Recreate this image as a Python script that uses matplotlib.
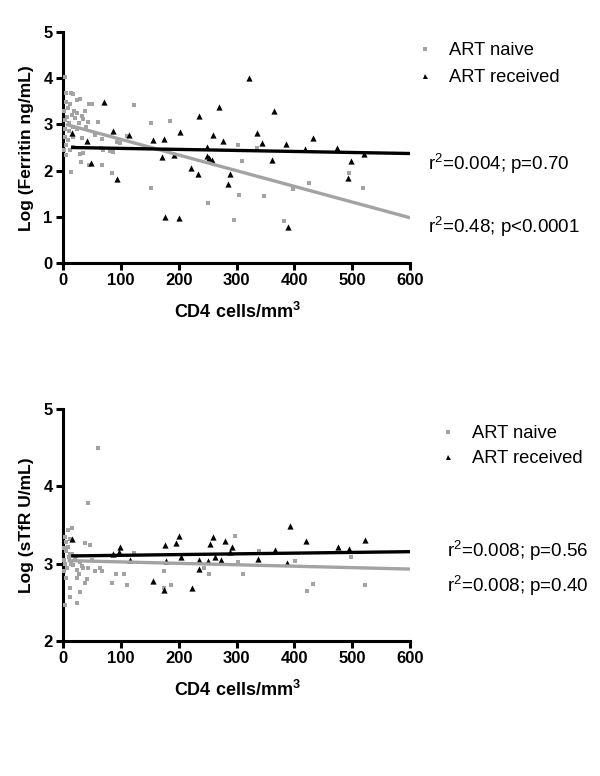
import matplotlib
matplotlib.use("Agg")
import matplotlib.pyplot as plt
from matplotlib.lines import Line2D

plt.rcParams['font.family'] = ['Liberation Sans', 'DejaVu Sans']
plt.rcParams['mathtext.fontset'] = 'custom'
plt.rcParams['mathtext.rm'] = 'Liberation Sans'
plt.rcParams['mathtext.bf'] = 'Liberation Sans:bold'
plt.rcParams['mathtext.it'] = 'Liberation Sans:italic'

# ---------------- data ----------------
x_ticks = [0, 100, 200, 300, 400, 500, 600]
top_y_ticks = [0, 1, 2, 3, 4, 5]
bot_y_ticks = [2, 3, 4, 5]
legend_labels = ["ART naive", "ART received"]

top_naive_x = [3, 5, 14, 18, 5, 24, 29, 45, 50, 38, 19, 24, 32, 34, 21, 7, 3, 11, 18, 25, 28, 44, 61, 122,
               3, 9, 6, 5, 12, 18, 29, 35, 18, 32, 67, 66, 70, 86, 81, 31, 45, 67, 14, 84, 99, 94, 110,
               152, 153, 185, 251, 296, 302, 305, 310, 336, 347, 382, 398, 425, 495, 518,
               2, 4, 8, 10, 15, 2, 12, 40, 55]
top_naive_y = [4.03, 3.67, 3.67, 3.65, 3.49, 3.53, 3.55, 3.44, 3.44, 3.28, 3.28, 3.25, 3.18, 3.11, 3.13, 3.15,
               3.10, 3.02, 2.95, 2.89, 3.04, 3.06, 3.06, 3.42,
               2.73, 2.66, 2.55, 2.34, 2.44, 2.52, 2.37, 2.38, 2.73, 2.70, 2.68, 2.48, 2.45, 2.40, 2.42,
               2.19, 2.12, 2.12, 1.98, 1.95, 2.59, 2.62, 2.74,
               1.62, 3.02, 3.07, 1.29, 0.93, 2.55, 1.47, 2.21, 2.48, 1.45, 0.90, 1.60, 1.74, 1.94, 1.63,
               3.30, 2.90, 3.35, 2.85, 3.20, 2.45, 3.45, 2.95, 2.78]

top_recv_x = [15, 42, 48, 71, 86, 94, 114, 155, 175, 172, 176, 192, 200, 203, 221, 234, 235, 249, 249,
              253, 257, 259, 270, 277, 288, 285, 321, 335, 344, 361, 364, 385, 389, 419, 433, 473,
              498, 493, 520]
top_recv_y = [2.81, 2.65, 2.16, 3.48, 2.85, 1.81, 2.76, 2.66, 2.68, 2.30, 1.00, 2.34, 0.97, 2.84, 2.06,
              1.93, 3.19, 2.52, 2.32, 2.27, 2.23, 2.78, 3.38, 2.65, 1.92, 1.72, 4.00, 2.82, 2.60, 2.23,
              3.28, 2.58, 0.79, 2.47, 2.71, 2.48, 2.21, 1.83, 2.35]

bot_naive_x = [61, 44, 15, 9, 3, 12, 38, 46, 5, 12, 6, 24, 12, 29, 3, 12, 24, 38, 41, 44, 64, 68, 84, 92,
               105, 110, 122, 174, 174, 186, 244, 253, 298, 303, 312, 339, 401, 422, 432, 498, 523,
               2, 4, 7, 10, 14, 18, 20, 25, 28, 32, 8, 16, 22, 30, 35, 2, 5, 50, 55, 1]
bot_naive_y = [4.50, 3.79, 3.46, 3.43, 3.35, 3.32, 3.27, 3.24, 3.17, 3.13, 2.82, 2.82, 2.69, 2.64, 2.47,
               2.57, 2.49, 2.75, 2.80, 2.94, 2.95, 2.91, 2.75, 2.86, 2.86, 2.73, 3.14, 2.91, 2.69, 2.72,
               2.94, 2.86, 3.36, 3.02, 2.86, 3.16, 3.04, 2.65, 2.74, 3.08, 2.72,
               3.05, 3.00, 2.95, 3.08, 3.00, 2.98, 3.05, 2.92, 2.87, 2.97, 3.22, 3.12, 3.10, 3.02, 2.95,
               2.90, 3.28, 3.05, 2.90, 3.20]

bot_recv_x = [15, 87, 96, 99, 116, 156, 174, 176, 178, 195, 201, 204, 223, 235, 235, 251, 255, 259, 262,
              273, 280, 289, 292, 338, 366, 388, 392, 420, 476, 495, 522]
bot_recv_y = [3.32, 3.13, 3.15, 3.22, 3.05, 2.77, 2.66, 3.24, 3.03, 3.27, 3.36, 3.08, 2.68, 3.05, 2.93,
              3.04, 3.25, 3.35, 3.08, 3.05, 3.29, 3.15, 3.21, 3.06, 3.18, 3.01, 3.49, 3.29, 3.22, 3.19,
              3.31]

# regression line end points
top_naive_fit_x = [5, 600]
top_naive_fit_y = [3.00, 0.98]
top_recv_fit_x = [14, 600]
top_recv_fit_y = [2.50, 2.37]
bot_naive_fit_x = [8, 600]
bot_naive_fit_y = [3.04, 2.93]
bot_recv_fit_x = [14, 600]
bot_recv_fit_y = [3.10, 3.155]

top_stats = ["r$^2$=0.004; p=0.70", "r$^2$=0.48; p<0.0001"]
bot_stats = ["r$^2$=0.008; p=0.56", "r$^2$=0.008; p=0.40"]

GRAY = "#a3a3a3"
W, H = 600, 776
fig = plt.figure(figsize=(6, 7.76), dpi=100)


def px_rect(left, top, right, bottom):
    return [left / W, 1 - bottom / H, (right - left) / W, (bottom - top) / H]


def style(ax, yticks, ylim):
    ax.set_xlim(0, 600)
    ax.set_ylim(*ylim)
    ax.set_xticks(x_ticks)
    ax.set_yticks(yticks)
    for s in ['top', 'right']:
        ax.spines[s].set_visible(False)
    for s in ['left', 'bottom']:
        ax.spines[s].set_linewidth(2.2)
    ax.tick_params(width=2.2, length=5, pad=2.5, labelsize=12)
    for lab in ax.get_xticklabels() + ax.get_yticklabels():
        lab.set_fontweight('bold')


def draw(ax, nx, ny, rx, ry, nfx, nfy, rfx, rfy):
    ax.scatter(nx, ny, marker='s', s=9, color=GRAY, linewidths=0, zorder=3, clip_on=False)
    ax.scatter(rx, ry, marker='^', s=20, color='black', linewidths=0, zorder=4, clip_on=False)
    ax.plot(nfx, nfy, color=GRAY, lw=2.4, zorder=5, solid_capstyle='butt')
    ax.plot(rfx, rfy, color='black', lw=2.4, zorder=6, solid_capstyle='butt')


handles = [Line2D([], [], marker='s', color=GRAY, ls='none', markersize=2.6, markeredgewidth=0),
           Line2D([], [], marker='^', color='black', ls='none', markersize=3.6, markeredgewidth=0)]

# top panel
ax1 = fig.add_axes(px_rect(63, 32, 410, 263))
draw(ax1, top_naive_x, top_naive_y, top_recv_x, top_recv_y,
     top_naive_fit_x, top_naive_fit_y, top_recv_fit_x, top_recv_fit_y)
style(ax1, top_y_ticks, (0, 5))
fig.text(27 / W, 1 - 148 / H, "Log (Ferritin ng/mL)", rotation=90, ha='center', va='center',
         fontsize=12.5, fontweight='bold')
fig.text(237 / W, 1 - 312 / H, r"CD4 cells/mm$^{\mathbf{3}}$", ha='center', va='center',
         fontsize=13, fontweight='bold')
fig.legend(handles, legend_labels, loc='upper left', bbox_to_anchor=(418 / W, 1 - 42 / H),
           frameon=False, fontsize=13.2, handlelength=0.8, handletextpad=0.9, borderpad=0,
           borderaxespad=0, labelspacing=0.55)
fig.text(428 / W, 1 - 170 / H, top_stats[0], ha='left', va='baseline', fontsize=13.5)
fig.text(428 / W, 1 - 233 / H, top_stats[1], ha='left', va='baseline', fontsize=13.5)

# bottom panel
ax2 = fig.add_axes(px_rect(63, 409, 410, 641))
draw(ax2, bot_naive_x, bot_naive_y, bot_recv_x, bot_recv_y,
     bot_naive_fit_x, bot_naive_fit_y, bot_recv_fit_x, bot_recv_fit_y)
style(ax2, bot_y_ticks, (2, 5))
fig.text(27 / W, 1 - 525 / H, "Log (sTfR U/mL)", rotation=90, ha='center', va='center',
         fontsize=12.5, fontweight='bold')
fig.text(237 / W, 1 - 690 / H, r"CD4 cells/mm$^{\mathbf{3}}$", ha='center', va='center',
         fontsize=13, fontweight='bold')
fig.legend(handles, legend_labels, loc='upper left', bbox_to_anchor=(441 / W, 1 - 425 / H),
           frameon=False, fontsize=13.2, handlelength=0.8, handletextpad=0.9, borderpad=0,
           borderaxespad=0, labelspacing=0.45)
fig.text(447 / W, 1 - 557 / H, bot_stats[0], ha='left', va='baseline', fontsize=13.5)
fig.text(447 / W, 1 - 592 / H, bot_stats[1], ha='left', va='baseline', fontsize=13.5)

fig.savefig("out.png", dpi=100)
